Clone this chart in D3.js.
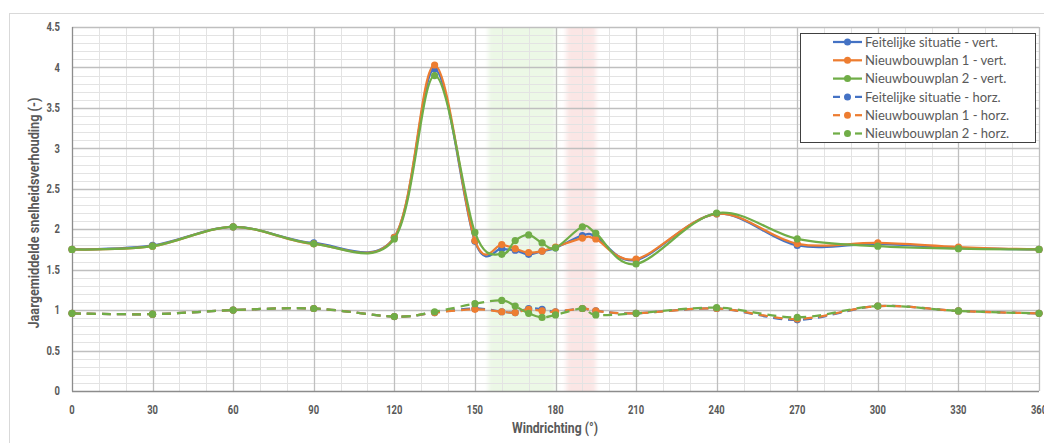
<!DOCTYPE html>
<html>
<head>
<meta charset="utf-8">
<script src="https://cdn.jsdelivr.net/npm/d3@7"></script>
<style>
  html, body { margin: 0; padding: 0; background: #fff; overflow: hidden; }
  svg { display: block; }
  .tick-label { font-family: Roboto, 'DejaVu Sans Condensed', sans-serif; font-weight: bold; fill: #595959; }
  .axis-title { font-family: Roboto, 'DejaVu Sans Condensed', sans-serif; font-weight: bold; fill: #595959; }
  .legend-text { font-family: Lato, 'Open Sans', sans-serif; fill: #595959; }
</style>
</head>
<body>
<svg id="chart" width="1044" height="443"></svg>
<script>
// Wind directions (degrees) at which the ratios were computed
const directions = [0, 30, 60, 90, 120, 135, 150, 160, 165, 170, 175, 180, 190, 195, 210, 240, 270, 300, 330, 360];

// Annual mean wind speed ratio, vertical component
const feitelijkVert = [1.75, 1.80, 2.03, 1.83, 1.90, 3.98, 1.85, 1.76, 1.74, 1.69, 1.73, 1.77, 1.92, 1.91, 1.62, 2.19, 1.80, 1.82, 1.77, 1.75];
const plan1Vert     = [1.75, 1.79, 2.03, 1.82, 1.90, 4.03, 1.86, 1.81, 1.76, 1.71, 1.73, 1.78, 1.89, 1.88, 1.63, 2.19, 1.82, 1.83, 1.78, 1.75];
const plan2Vert     = [1.75, 1.79, 2.03, 1.82, 1.88, 3.90, 1.96, 1.69, 1.86, 1.93, 1.83, 1.77, 2.03, 1.95, 1.57, 2.20, 1.88, 1.79, 1.76, 1.75];

// Annual mean wind speed ratio, horizontal component
const feitelijkHorz = [0.96, 0.95, 1.00, 1.02, 0.92, 0.97, 1.02, 0.98, 0.97, 1.02, 1.01, 0.98, 1.02, 0.99, 0.96, 1.02, 0.88, 1.05, 0.99, 0.96];
const plan1Horz     = [0.96, 0.95, 1.00, 1.02, 0.92, 0.97, 1.01, 0.98, 0.97, 1.01, 0.99, 0.98, 1.02, 0.99, 0.96, 1.02, 0.89, 1.05, 0.99, 0.96];
const plan2Horz     = [0.96, 0.95, 1.00, 1.02, 0.92, 0.98, 1.08, 1.12, 1.05, 0.96, 0.91, 0.94, 1.02, 0.94, 0.96, 1.03, 0.91, 1.05, 0.99, 0.96];

const seriesNames = [
  "Feitelijke situatie - vert.",
  "Nieuwbouwplan 1 - vert.",
  "Nieuwbouwplan 2 - vert.",
  "Feitelijke situatie - horz.",
  "Nieuwbouwplan 1 - horz.",
  "Nieuwbouwplan 2 - horz."
];

// Highlighted direction sectors
const greenSector = [155, 180];
const redSector = [184, 195];

const xTicks = [0, 30, 60, 90, 120, 150, 180, 210, 240, 270, 300, 330, 360];
const yTicks = [0, 0.5, 1, 1.5, 2, 2.5, 3, 3.5, 4, 4.5];

const xTitle = "Windrichting (°)";
const yTitle = "Jaargemiddelde snelheidsverhouding (-)";

const COLORS = { blue: "#4472C4", orange: "#ED7D31", green: "#70AD47" };

const series = [
  { name: seriesNames[0], values: feitelijkVert, color: COLORS.blue, dashed: false },
  { name: seriesNames[1], values: plan1Vert, color: COLORS.orange, dashed: false },
  { name: seriesNames[2], values: plan2Vert, color: COLORS.green, dashed: false },
  { name: seriesNames[3], values: feitelijkHorz, color: COLORS.blue, dashed: true },
  { name: seriesNames[4], values: plan1Horz, color: COLORS.orange, dashed: true },
  { name: seriesNames[5], values: plan2Horz, color: COLORS.green, dashed: true }
];

const svg = d3.select("#chart");
const plot = { left: 72, right: 1039, top: 27, bottom: 391 };

const x = d3.scaleLinear().domain([0, 360]).range([plot.left, plot.right]);
const y = d3.scaleLinear().domain([0, 4.5]).range([plot.bottom, plot.top]);

// Narrow numeric labels: width from digit count
const labelWidth = s => String(s).split("").reduce((w, c) => w + (c === "." ? 2.8 : 5.4), 0);

// Outer chart frame
svg.append("rect")
  .attr("x", 9.5).attr("y", 13.5)
  .attr("width", 1100).attr("height", 500)
  .attr("fill", "#fff").attr("stroke", "#d9d9d9");

const defs = svg.append("defs");
defs.append("clipPath").attr("id", "plotClip")
  .append("rect")
  .attr("x", plot.left).attr("y", plot.top)
  .attr("width", plot.right - plot.left).attr("height", plot.bottom - plot.top);
defs.append("filter").attr("id", "soft")
  .attr("x", "-20%").attr("y", "-20%").attr("width", "140%").attr("height", "140%")
  .append("feGaussianBlur").attr("stdDeviation", 2);

// Sector shading
const shade = svg.append("g").attr("clip-path", "url(#plotClip)")
  .append("g").attr("filter", "url(#soft)");
shade.append("rect")
  .attr("x", x(greenSector[0])).attr("y", plot.top - 20)
  .attr("width", x(greenSector[1]) - x(greenSector[0]))
  .attr("height", plot.bottom - plot.top + 40)
  .attr("fill", "#ecf8e6");
shade.append("rect")
  .attr("x", x(redSector[0])).attr("y", plot.top - 20)
  .attr("width", x(redSector[1]) - x(redSector[0]))
  .attr("height", plot.bottom - plot.top + 40)
  .attr("fill", "#fbe6e5");

// Gridlines
const grid = svg.append("g");
const minorX = d3.range(0, 361, 10).filter(d => d % 30 !== 0);
const minorY = d3.range(0, 46, 1).map(d => d / 10).filter(d => Math.round(d * 10) % 5 !== 0);

grid.selectAll(".gx-minor").data(minorX).join("line")
  .attr("x1", d => Math.round(x(d)) + 0.5).attr("x2", d => Math.round(x(d)) + 0.5)
  .attr("y1", plot.top).attr("y2", plot.bottom)
  .attr("stroke", "#e3e3e3").attr("stroke-width", 1);
grid.selectAll(".gy-minor").data(minorY).join("line")
  .attr("x1", plot.left).attr("x2", plot.right)
  .attr("y1", d => Math.round(y(d)) + 0.5).attr("y2", d => Math.round(y(d)) + 0.5)
  .attr("stroke", "#e3e3e3").attr("stroke-width", 1);
grid.selectAll(".gx-major").data(xTicks.slice(1)).join("line")
  .attr("x1", d => Math.round(x(d)) + 0.5).attr("x2", d => Math.round(x(d)) + 0.5)
  .attr("y1", plot.top).attr("y2", plot.bottom)
  .attr("stroke", "#bfbfbf").attr("stroke-width", 1.3);
grid.selectAll(".gy-major").data(yTicks.slice(1)).join("line")
  .attr("x1", plot.left).attr("x2", plot.right)
  .attr("y1", d => Math.round(y(d)) + 0.5).attr("y2", d => Math.round(y(d)) + 0.5)
  .attr("stroke", "#bfbfbf").attr("stroke-width", 1.3);

// Axis lines
svg.append("line")
  .attr("x1", plot.left + 0.5).attr("x2", plot.left + 0.5)
  .attr("y1", plot.top).attr("y2", plot.bottom + 0.5)
  .attr("stroke", "#8c8c8c").attr("stroke-width", 1.3);
svg.append("line")
  .attr("x1", plot.left).attr("x2", plot.right)
  .attr("y1", plot.bottom + 0.5).attr("y2", plot.bottom + 0.5)
  .attr("stroke", "#8c8c8c").attr("stroke-width", 1.3);

// Tick labels
svg.append("g").selectAll("text").data(yTicks).join("text")
  .attr("class", "tick-label")
  .attr("x", 60).attr("y", d => y(d))
  .attr("dy", "0.35em")
  .attr("text-anchor", "end")
  .attr("font-size", 12)
  .attr("textLength", d => labelWidth(d))
  .attr("lengthAdjust", "spacingAndGlyphs")
  .text(d => d);
svg.append("g").selectAll("text").data(xTicks).join("text")
  .attr("class", "tick-label")
  .attr("x", d => x(d)).attr("y", 414)
  .attr("text-anchor", "middle")
  .attr("font-size", 12)
  .attr("textLength", d => labelWidth(d))
  .attr("lengthAdjust", "spacingAndGlyphs")
  .text(d => d);

// Axis titles
svg.append("text").attr("class", "axis-title")
  .attr("x", 555).attr("y", 433)
  .attr("text-anchor", "middle")
  .attr("font-size", 14)
  .attr("textLength", 86)
  .attr("lengthAdjust", "spacingAndGlyphs")
  .text(xTitle);
svg.append("text").attr("class", "axis-title")
  .attr("transform", `translate(39,${(plot.top + plot.bottom) / 2 + 4}) rotate(-90)`)
  .attr("text-anchor", "middle")
  .attr("font-size", 14)
  .attr("textLength", 231)
  .attr("lengthAdjust", "spacingAndGlyphs")
  .text(yTitle);

// Series lines with markers
const line = d3.line()
  .x((d, i) => x(directions[i]))
  .y(d => y(d))
  .curve(d3.curveCatmullRom.alpha(0));

const seriesLayer = svg.append("g");
series.forEach(s => {
  const g = seriesLayer.append("g");
  g.append("path")
    .attr("d", line(s.values))
    .attr("fill", "none")
    .attr("stroke", s.color)
    .attr("stroke-width", 2.25)
    .attr("stroke-linejoin", "round")
    .attr("stroke-dasharray", s.dashed ? "9,6" : null);
  g.selectAll("circle").data(s.values).join("circle")
    .attr("cx", (d, i) => x(directions[i]))
    .attr("cy", d => y(d))
    .attr("r", 3.6)
    .attr("fill", s.color);
});

// Legend
const legend = svg.append("g");
legend.append("rect")
  .attr("x", 800.5).attr("y", 33.5)
  .attr("width", 235).attr("height", 109)
  .attr("fill", "#fff").attr("stroke", "#404040").attr("stroke-width", 1);
series.forEach((s, i) => {
  const ly = 42 + i * 18.3;
  const g = legend.append("g");
  if (s.dashed) {
    g.append("line").attr("x1", 833).attr("x2", 840).attr("y1", ly).attr("y2", ly)
      .attr("stroke", s.color).attr("stroke-width", 2.25);
    g.append("line").attr("x1", 855).attr("x2", 862).attr("y1", ly).attr("y2", ly)
      .attr("stroke", s.color).attr("stroke-width", 2.25);
  } else {
    g.append("line").attr("x1", 833).attr("x2", 862).attr("y1", ly).attr("y2", ly)
      .attr("stroke", s.color).attr("stroke-width", 2.25);
  }
  g.append("circle").attr("cx", 847.5).attr("cy", ly).attr("r", 3.5).attr("fill", s.color);
  g.append("text").attr("class", "legend-text")
    .attr("x", 865).attr("y", ly).attr("dy", "0.36em")
    .attr("font-size", 13)
    .text(s.name);
});
</script>
</body>
</html>
